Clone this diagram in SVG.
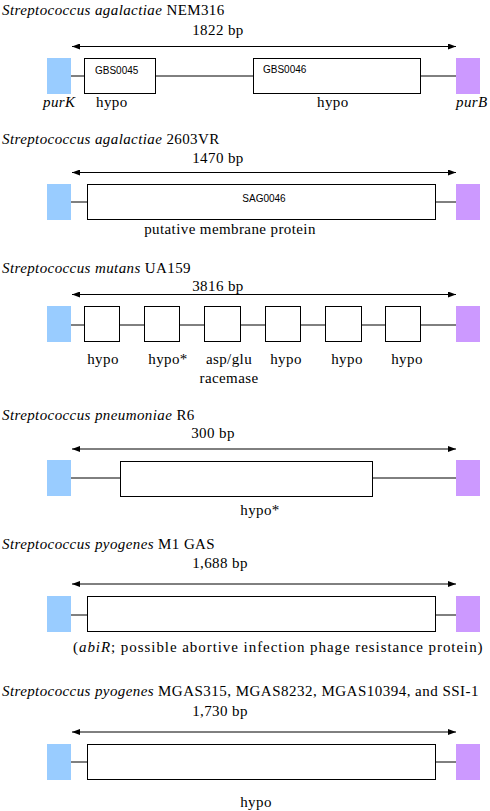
<svg xmlns="http://www.w3.org/2000/svg" width="490" height="811" viewBox="0 0 490 811" font-family="'Liberation Serif', 'Times New Roman', serif">
<style>
.t{font-family:"Liberation Serif","DejaVu Serif","Times New Roman",serif;font-size:15px;letter-spacing:0.4px;fill:#000}
.i{font-style:italic}
.s{font-family:"Liberation Sans",Arial,sans-serif;font-size:10px;letter-spacing:0;fill:#000}
.m{text-anchor:middle}
.ln{stroke:#000;stroke-width:1;fill:none}
.box{fill:#fff;stroke:#000;stroke-width:1}
.pk{fill:#99ccff}
.pb{fill:#cc99ff}
.ar{stroke:#000;stroke-width:1;fill:none;marker-start:url(#a);marker-end:url(#a)}
</style>
<defs>
<marker id="a" viewBox="0 0 8 6" refX="8" refY="3" markerWidth="8" markerHeight="6" markerUnits="userSpaceOnUse" orient="auto-start-reverse">
<path d="M0,0 L8,3 L0,6 Z" fill="#000"/>
</marker>
</defs>
<g id="connectors">
<line class="ar" x1="72" y1="46.5" x2="456" y2="46.5"/>
<line class="ln" x1="71" y1="76" x2="456" y2="76"/>
<line class="ar" x1="72" y1="172.5" x2="456" y2="172.5"/>
<line class="ln" x1="71" y1="202" x2="456" y2="202"/>
<line class="ar" x1="72" y1="294.5" x2="456" y2="294.5"/>
<line class="ln" x1="71" y1="325" x2="456" y2="325"/>
<line class="ar" x1="72" y1="449" x2="456" y2="449"/>
<line class="ln" x1="71" y1="478" x2="456" y2="478"/>
<line class="ar" x1="72" y1="584" x2="456" y2="584"/>
<line class="ln" x1="71" y1="615" x2="456" y2="615"/>
<line class="ar" x1="72" y1="732" x2="456" y2="732"/>
<line class="ln" x1="71" y1="762" x2="456" y2="762"/>
</g>
<g id="panel1">
<text class="t" x="2" y="15"><tspan class="i">Streptococcus agalactiae</tspan> NEM316</text>
<text class="t m" x="218" y="35">1822 bp</text>
<rect id="p1-purK" class="pk" x="47" y="58" width="24" height="36"/>
<rect id="p1-purB" class="pb" x="456" y="58" width="24" height="36"/>
<g id="p1-gbs0045"><rect class="box" x="84.5" y="58.5" width="71" height="35"/><text class="s" x="95" y="74">GBS0045</text></g>
<g id="p1-gbs0046"><rect class="box" x="253.5" y="58.5" width="167" height="35"/><text class="s" x="263" y="73">GBS0046</text></g>
<text class="t i" x="43" y="107">purK</text>
<text class="t" x="96" y="107">hypo</text>
<text class="t" x="317" y="107">hypo</text>
<text class="t i" x="456" y="107">purB</text>
</g>
<g id="panel2">
<text class="t" x="2" y="144"><tspan class="i">Streptococcus agalactiae</tspan> 2603VR</text>
<text class="t m" x="218" y="163">1470 bp</text>
<rect class="pk" x="47" y="184" width="24" height="36"/>
<rect class="pb" x="456" y="184" width="24" height="36"/>
<g id="p2-sag0046"><rect class="box" x="87.5" y="184.5" width="348" height="35"/><text class="s m" x="264" y="202">SAG0046</text></g>
<text class="t m" x="230" y="234">putative membrane protein</text>
</g>
<g id="panel3">
<text class="t" x="2" y="273"><tspan class="i">Streptococcus mutans</tspan> UA159</text>
<text class="t m" x="218" y="291">3816 bp</text>
<rect class="pk" x="47" y="306" width="24" height="36"/>
<rect class="pb" x="456" y="306" width="24" height="36"/>
<rect id="p3-g1" class="box" x="84.5" y="306.5" width="35" height="35"/>
<rect id="p3-g2" class="box" x="144.5" y="306.5" width="35" height="35"/>
<rect id="p3-g3" class="box" x="204.5" y="306.5" width="36" height="35"/>
<rect id="p3-g4" class="box" x="265.5" y="306.5" width="35" height="35"/>
<rect id="p3-g5" class="box" x="325.5" y="306.5" width="36" height="35"/>
<rect id="p3-g6" class="box" x="385.5" y="306.5" width="35" height="35"/>
<text class="t m" x="103" y="364">hypo</text>
<text class="t m" x="168" y="364">hypo*</text>
<text class="t m" x="229" y="364">asp/glu</text>
<text class="t m" x="229" y="383">racemase</text>
<text class="t m" x="286" y="364">hypo</text>
<text class="t m" x="347" y="364">hypo</text>
<text class="t m" x="407" y="364">hypo</text>
</g>
<g id="panel4">
<text class="t" x="2" y="420"><tspan class="i">Streptococcus pneumoniae</tspan> R6</text>
<text class="t m" x="213" y="438">300 bp</text>
<rect class="pk" x="47" y="460" width="24" height="36"/>
<rect class="pb" x="456" y="460" width="24" height="36"/>
<rect id="p4-g1" class="box" x="120.5" y="461.5" width="252" height="35"/>
<text class="t m" x="260" y="515">hypo*</text>
</g>
<g id="panel5">
<text class="t" x="2" y="549"><tspan class="i">Streptococcus pyogenes</tspan> M1 GAS</text>
<text class="t m" x="220" y="568">1,688 bp</text>
<rect class="pk" x="47" y="596" width="24" height="36"/>
<rect class="pb" x="456" y="596" width="24" height="36"/>
<rect id="p5-g1" class="box" x="87.5" y="596.5" width="348" height="35"/>
<text class="t" x="73" y="652" textLength="410" lengthAdjust="spacing">(<tspan class="i">abiR</tspan>; possible abortive infection phage resistance protein)</text>
</g>
<g id="panel6">
<text class="t i" x="2" y="696">Streptococcus pyogenes</text>
<text class="t" x="158" y="696" textLength="321" lengthAdjust="spacing">MGAS315, MGAS8232, MGAS10394, and SSI-1</text>
<text class="t m" x="220" y="716">1,730 bp</text>
<rect class="pk" x="47" y="744" width="24" height="36"/>
<rect class="pb" x="456" y="744" width="24" height="36"/>
<rect id="p6-g1" class="box" x="87.5" y="744.5" width="348" height="35"/>
<text class="t m" x="256" y="807">hypo</text>
</g>
</svg>
